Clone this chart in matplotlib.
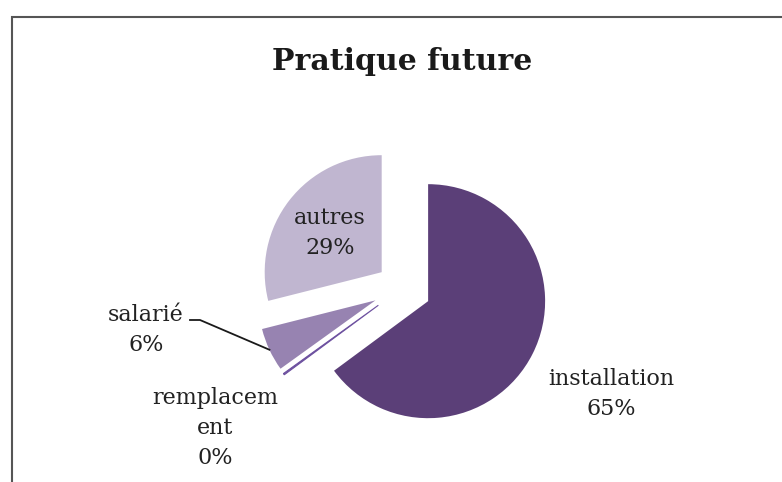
import numpy as np
import matplotlib
matplotlib.use("Agg")
import matplotlib.pyplot as plt
from matplotlib.patches import Rectangle

# Répartition des réponses (%)
categories = ["installation", "remplacement", "salarié", "autres"]
valeurs = [65, 0.2, 6, 29]
couleurs = ["#5b3f78", "#6e52a0", "#9783b1", "#c0b6d0"]

W, H = 782, 482
plt.rcParams["font.family"] = ["DejaVu Serif"]

fig = plt.figure(figsize=(W / 100, H / 100), dpi=100)
ax = fig.add_axes([0, 0, 1, 1])

# cadre du graphique
ax.add_patch(Rectangle((12, -20), W, H - 17 + 20, fill=False,
                       edgecolor="#555555", linewidth=1.5))

ax.text(402, H - 62, "Pratique future", ha="center", va="center",
        fontsize=21.5, fontweight="bold", color="#1a1a1a")

R = 117
explode = [0.25 * R, 0.25 * R, 0.25 * R, 0.22 * R]
wedges, _ = ax.pie(valeurs, explode=explode, colors=couleurs, radius=R,
                   center=(402, H - 288), startangle=90, counterclock=False,
                   wedgeprops=dict(linewidth=0), frame=True)
# la part à 0 % reste visible comme un trait
wedges[1].set_edgecolor(couleurs[1])
wedges[1].set_linewidth(0.8)
ax.set_xlim(0, W)
ax.set_ylim(0, H)
ax.set_aspect("equal")
ax.axis("off")

total = sum(valeurs)
pct = [f"{round(v / total * 100)}%" for v in valeurs]
txt = dict(ha="center", va="center", fontsize=16, color="#222222",
           linespacing=1.45)

ax.text(611, H - 394, f"installation\n{pct[0]}", **txt)
ax.text(330, H - 233, f"autres\n{pct[3]}", **txt)
ax.text(146, H - 330, f"salarié\n{pct[2]}", **txt)
ax.text(215, H - 428, "remplacem\nent\n" + pct[1], **txt)

# trait de rappel vers la part "salarié"
w = wedges[2]
tm = np.deg2rad((w.theta1 + w.theta2) / 2)
cx, cy = w.center
tx, ty = cx + w.r * np.cos(tm), cy + w.r * np.sin(tm)
ax.plot([190, 200, tx], [H - 320, H - 320, ty], color="#1a1a1a", lw=1.3)

fig.savefig("out.png", dpi=100)
